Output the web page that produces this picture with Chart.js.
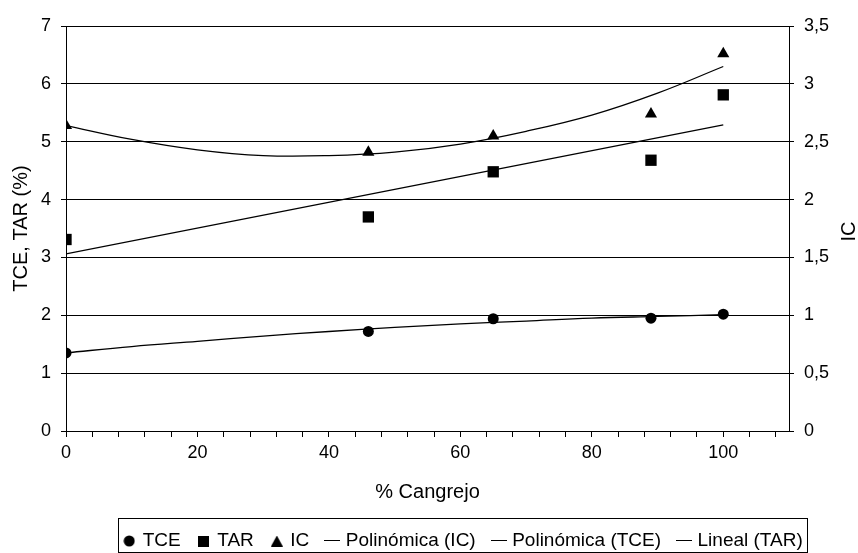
<!DOCTYPE html>
<html>
<head>
<meta charset="utf-8">
<script src="https://cdn.jsdelivr.net/npm/chart.js@4"></script>
<style>
    html, body { margin: 0; padding: 0; background: #fff; }
    #wrap { width: 858px; height: 553px; position: relative; }
</style>
</head>
<body>
<div id="wrap"><canvas id="chart"></canvas></div>
<script>
// % Cangrejo
const cangrejo = [0, 46, 65, 89, 100];
const tce = [1.35, 1.72, 1.94, 1.95, 2.02];
const tar = [3.31, 3.70, 4.48, 4.68, 5.81];
const ic = [2.64, 2.41, 2.55, 2.74, 3.26];

// trend lines
const trendX = [0, 10, 20, 30, 40, 50, 60, 70, 80, 90, 100];
const icTrend = [2.64, 2.52, 2.43, 2.38, 2.38, 2.41, 2.48, 2.59, 2.73, 2.92, 3.15];
const tceTrend = [1.35, 1.46, 1.55, 1.64, 1.72, 1.79, 1.85, 1.90, 1.95, 1.98, 2.01];
const tarTrendX = [0, 100];
const tarTrend = [3.06, 5.29];

const xTickLabels = [0, 20, 40, 60, 80, 100];

const FONT = "Arial, 'Liberation Sans', sans-serif";
Chart.defaults.font.family = FONT;
Chart.defaults.color = "#000";

function pairs(xs, ys) {
    return xs.map((x, i) => ({ x: x, y: ys[i] }));
}

// small legend symbols, sized like the original ones
function icon(w, h, draw) {
    const c = document.createElement("canvas");
    c.width = w;
    c.height = h;
    const g = c.getContext("2d");
    g.fillStyle = "#000";
    draw(g);
    return c;
}
const legendIcons = {
    circle: icon(12, 12, (g) => { g.beginPath(); g.arc(6, 6, 5.5, 0, Math.PI * 2); g.fill(); }),
    rect: icon(11, 11, (g) => g.fillRect(0, 0, 11, 11)),
    triangle: icon(12, 11, (g) => { g.beginPath(); g.moveTo(6, 0); g.lineTo(12, 11); g.lineTo(0, 11); g.fill(); }),
    line: icon(16, 2, (g) => g.fillRect(0, 0, 16, 1))
};

function markerSet(label, ys, style, radius, axis) {
    return {
        label: label,
        data: pairs(cangrejo, ys),
        showLine: false,
        pointStyle: style,
        pointRadius: radius,
        pointHoverRadius: radius,
        pointBackgroundColor: "#000",
        pointBorderWidth: 0,
        backgroundColor: "#000",
        borderColor: "#000",
        yAxisID: axis,
        legendIcon: style
    };
}

function trendSet(label, xs, ys, axis) {
    return {
        label: label,
        data: pairs(xs, ys),
        borderColor: "#000",
        backgroundColor: "#000",
        borderWidth: 1.3,
        pointRadius: 0,
        tension: 0.4,
        yAxisID: axis,
        legendIcon: "line"
    };
}

const legendBox = {
    id: "legendBox",
    afterLayout(chart) {
        // legend sits a bit right of centre in the original
        chart.legend.left += 35;
        chart.legend.right += 35;
    },
    afterDraw(chart) {
        const boxes = chart.legend.legendHitBoxes;
        if (!boxes || !boxes.length) return;
        const ctx = chart.ctx;
        const left = Math.min(...boxes.map((b) => b.left)) - 7;
        const right = Math.max(...boxes.map((b) => b.left + b.width)) + 4;
        const top = boxes[0].top - 13.5;
        const bottom = boxes[0].top + boxes[0].height + 1;
        ctx.save();
        ctx.strokeStyle = "#000";
        ctx.lineWidth = 1;
        ctx.strokeRect(Math.round(left) + 0.5, Math.round(top) + 0.5,
            Math.round(right - left), Math.round(bottom - top));

        // right axis title reads bottom to top, like the left one
        const y1 = chart.scales.y1;
        ctx.translate(y1.right - 9, (chart.chartArea.top + chart.chartArea.bottom) / 2 + 3);
        ctx.rotate(-Math.PI / 2);
        ctx.font = "20px " + FONT;
        ctx.fillStyle = "#000";
        ctx.textAlign = "center";
        ctx.textBaseline = "middle";
        ctx.fillText("IC", 0, 0);
        ctx.restore();
    }
};

new Chart(document.getElementById("chart"), {
    type: "line",
    data: {
        datasets: [
            markerSet("TCE", tce, "circle", 5.5, "y"),
            markerSet("TAR", tar, "rect", 8, "y"),
            markerSet("IC", ic, "triangle", 7, "y1"),
            trendSet("Polinómica (IC)", trendX, icTrend, "y1"),
            trendSet("Polinómica (TCE)", trendX, tceTrend, "y"),
            trendSet("Lineal (TAR)", tarTrendX, tarTrend, "y")
        ]
    },
    options: {
        responsive: true,
        maintainAspectRatio: false,
        animation: false,
        layout: {
            padding: { top: 26, left: 0, right: 0, bottom: -7.5 }
        },
        plugins: {
            tooltip: { enabled: false },
            legend: {
                position: "bottom",
                labels: {
                    usePointStyle: true,
                    boxWidth: 8,
                    boxHeight: 8,
                    padding: 19,
                    font: { size: 19 },
                    color: "#000",
                    generateLabels(chart) {
                        const items = Chart.defaults.plugins.legend.labels.generateLabels(chart);
                        items.forEach((item) => {
                            item.pointStyle = legendIcons[chart.data.datasets[item.datasetIndex].legendIcon];
                        });
                        return items;
                    }
                }
            }
        },
        scales: {
            x: {
                type: "linear",
                min: 0,
                max: 110,
                afterFit(scale) { scale.height = 81.5; },
                ticks: {
                    stepSize: 4,
                    includeBounds: false,
                    autoSkip: false,
                    maxRotation: 0,
                    padding: 5,
                    font: { size: 18 },
                    callback: (value) => xTickLabels.includes(value) ? String(value) : ""
                },
                grid: {
                    drawOnChartArea: false,
                    drawTicks: true,
                    tickLength: 6,
                    color: "#000"
                },
                border: { display: true, color: "#000", width: 1 },
                title: {
                    display: true,
                    text: "% Cangrejo",
                    font: { size: 20 },
                    padding: { top: 0, bottom: 8.5 }
                }
            },
            y: {
                position: "left",
                min: 0,
                max: 7,
                afterFit(scale) { scale.width = 66; },
                ticks: {
                    stepSize: 1,
                    padding: 10,
                    font: { size: 18 }
                },
                grid: {
                    color: "#000",
                    lineWidth: 1,
                    tickLength: 5
                },
                border: { display: true, color: "#000", width: 1 },
                title: {
                    display: true,
                    text: "TCE, TAR (%)",
                    font: { size: 20 },
                    padding: { top: 9, bottom: 0 }
                }
            },
            y1: {
                position: "right",
                min: 0,
                max: 3.5,
                afterFit(scale) { scale.width = 69; },
                ticks: {
                    stepSize: 0.5,
                    padding: 10,
                    font: { size: 18 },
                    callback: (value) => String(value).replace(".", ",")
                },
                grid: {
                    drawOnChartArea: false,
                    color: "#000",
                    tickLength: 5
                },
                border: { display: true, color: "#000", width: 1 }
            }
        }
    },
    plugins: [legendBox]
});
</script>
</body>
</html>
